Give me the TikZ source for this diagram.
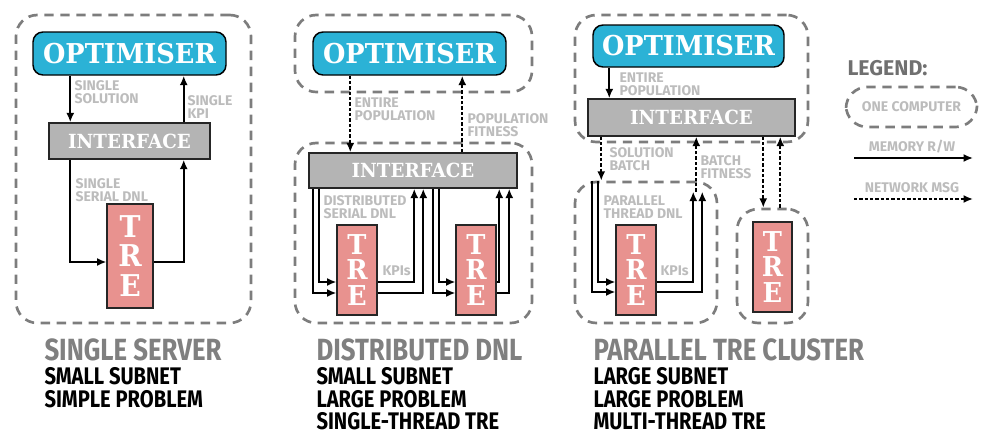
\documentclass[tikz,border=0pt]{standalone}
\usepackage{fontspec}
\usetikzlibrary{arrows.meta,calc,fit}
\newfontfamily\slabfont{DejaVu Serif}[FakeStretch=0.94]
\newfontfamily\labfont{Fira Sans}
\newfontfamily\headfont{Fira Sans}[FakeStretch=0.84]
\definecolor{optcyan}{RGB}{43,178,214}
\definecolor{intgrey}{RGB}{180,180,180}
\definecolor{trepink}{RGB}{232,146,143}
\definecolor{labgrey}{RGB}{188,188,188}
\definecolor{compgrey}{RGB}{125,125,125}
\definecolor{headgrey}{RGB}{128,128,128}
\definecolor{leggrey}{RGB}{112,112,112}
\tikzset{every picture/.style={line width=0.75pt}}
\tikzset{
  optbox/.style={draw=black, fill=optcyan, rounded corners=7.5pt, line width=1.1pt, minimum width=144.75pt, minimum height=32.25pt, inner sep=0pt, text=white, font=\slabfont\bfseries\fontsize{20.5}{20.5}\selectfont},
  intbox/.style={draw=black!85, fill=intgrey, line width=1.1pt, minimum height=27pt, inner sep=0pt, text=white, font=\slabfont\bfseries\fontsize{14.6}{14.6}\selectfont},
  trebox/.style={draw=black!85, fill=trepink, line width=0.8pt, minimum width=30pt, minimum height=67.5pt, inner sep=0pt, text=white, align=center, font=\slabfont\bfseries\fontsize{20.5}{19}\selectfont},
  comp/.style={draw=compgrey, dash pattern=on 7pt off 5pt, line width=2pt, rounded corners=16pt, inner sep=0pt},
  lab/.style={text=labgrey, align=left, anchor=north west, inner sep=0pt, font=\labfont\bfseries\fontsize{10.5}{9.6}\selectfont},
  mem/.style={draw=black, line width=1.5pt, -{Latex[length=7pt,width=6pt]}},
  net/.style={mem, dash pattern=on 2.5pt off 1.5pt},
  headtext/.style={anchor=north west, inner sep=0pt, text=headgrey, font=\headfont\bfseries\fontsize{23}{23}\selectfont},
  subtext/.style={anchor=north west, inner sep=0pt, align=left, font=\headfont\bfseries\fontsize{18}{17}\selectfont},
}

\begin{document}
\begin{tikzpicture}[x=0.75pt,y=0.75pt,yscale=-1,xscale=1]
\useasboundingbox (0,0) rectangle (993,443);

% Single server
\node[comp, fit={(16,15) (251,323)}] (pc1) {};
\node[optbox] (opt1) at (129.5,53.5) {OPTIMISER};
\node[intbox, minimum width=120.75pt] (int1) at (129.5,141) {INTERFACE};
\node[trebox, minimum width=34.5pt, minimum height=78pt, font=\slabfont\bfseries\fontsize{22.5}{22}\selectfont] (tre1) at (130,256) {T\\R\\E};

\coordinate (a1) at ($(int1.north west)+(22,0)$);
\coordinate (b1) at ($(int1.north east)+(-27,0)$);
\draw[mem] (a1 |- opt1.south) -- (a1);
\draw[mem] (b1) -- (b1 |- opt1.south);
\draw[mem] (a1 |- int1.south) |- ($(tre1.west)+(0,6)$);
\draw[mem] ($(tre1.east)+(0,6)$) -| (b1 |- int1.south);

% Text Node
\node[lab] (l1a) at (74,80) {SINGLE\\SOLUTION};
\node[lab] (l1b) at (187,95) {SINGLE\\KPI};
\node[lab] (l1c) at (75,178) {SINGLE\\SERIAL DNL};

% Distributed DNL
\node[comp, fit={(295,15) (532,92)}] (pc2a) {};
\node[comp, fit={(295,143) (532,323)}] (pc2b) {};
\node[optbox] (opt2) at (409.5,53.5) {OPTIMISER};
\node[intbox, minimum width=156pt, minimum height=26.25pt] (int2) at (413,170.5) {INTERFACE};
\node[trebox] (tre2a) at (357,270) {T\\R\\E};
\node[trebox] (tre2b) at (476,270) {T\\R\\E};

\coordinate (a2) at ($(int2.north west)+(42,0)$);
\coordinate (b2) at ($(int2.north west)+(154,0)$);
\draw[net] (a2 |- opt2.south) -- (a2);
\draw[net] (b2) -- (b2 |- opt2.south);
\draw[mem] ($(int2.south west)+(5,0)$) |- ($(tre2a.west)+(0,23)$);
\draw[mem] ($(int2.south west)+(11,0)$) |- ($(tre2a.west)+(0,12)$);
\draw[mem] ($(tre2a.east)+(0,12)$) -| ($(int2.south west)+(106,0)$);
\draw[mem] ($(tre2a.east)+(0,23)$) -| ($(int2.south west)+(115,0)$);
\draw[mem] ($(int2.south west)+(125,0)$) |- ($(tre2b.west)+(0,23)$);
\draw[mem] ($(int2.south west)+(131,0)$) |- ($(tre2b.west)+(0,12)$);
\draw[mem] ($(tre2b.east)+(0,12)$) -| ($(int2.south west)+(191,0)$);
\draw[mem] ($(tre2b.east)+(0,23)$) -| ($(int2.south west)+(201,0)$);

% Text Node
\node[lab] (l2a) at (354,97) {ENTIRE\\POPULATION};
\node[lab] (l2b) at (467,113) {POPULATION\\FITNESS};
\node[lab] (l2c) at (323,195) {DISTRIBUTED\\SERIAL DNL};
\node[lab] (l2d) at (382,265) {KPIs};

% Parallel TRE cluster
\node[comp, fit={(575,15) (808,142)}] (pc3a) {};
\node[comp, fit={(575,182) (717,323)}] (pc3b) {};
\node[comp, fit={(737,209) (808,323)}] (pc3c) {};
\node[optbox, minimum width=143.25pt, minimum height=31.5pt] (opt3) at (688.5,46) {OPTIMISER};
\node[intbox, minimum width=155.25pt, minimum height=27.75pt] (int3) at (691.5,117.5) {INTERFACE};
\node[trebox] (tre3a) at (636,270) {T\\R\\E};
\node[trebox, minimum width=29.25pt] (tre3b) at (772.5,267) {T\\R\\E};

\coordinate (a3) at ($(int3.north west)+(22,0)$);
\coordinate (c3) at ($(int3.south west)+(14,0)$);
\coordinate (d3) at ($(int3.south west)+(109,0)$);
\coordinate (e3) at ($(int3.south west)+(5,0)$);
\coordinate (f3) at ($(int3.south west)+(11,0)$);
\coordinate (g3) at ($(int3.south west)+(106,0)$);
\coordinate (h3) at ($(int3.south west)+(115,0)$);
\coordinate (m3) at ($(int3.south west)+(176,0)$);
\coordinate (n3) at ($(int3.south west)+(193,0)$);
\coordinate (k3) at ($(pc3b.north)+(0,11)$);
\draw[mem] (a3 |- opt3.south) -- (a3);
\draw[net] (c3) -- (c3 |- pc3b.north);
\draw[net] (d3 |- k3) -- (d3);
\draw[mem] (e3 |- pc3b.north) |- ($(tre3a.west)+(0,22)$);
\draw[mem] (f3 |- pc3b.north) |- ($(tre3a.west)+(0,12)$);
\draw[mem] ($(tre3a.east)+(0,12)$) -| (g3 |- k3);
\draw[mem] ($(tre3a.east)+(0,22)$) -| (h3 |- k3);
\draw[net] (m3) -- (m3 |- pc3c.north);
\draw[net] (n3 |- pc3c.north) -- (n3);

% Text Node
\node[lab] (l3a) at (619,72) {ENTIRE\\POPULATION};
\node[lab] (l3b) at (609,147) {SOLUTION\\BATCH};
\node[lab] (l3c) at (700,155) {BATCH\\FITNESS};
\node[lab] (l3d) at (603,195) {PARALLEL\\THREAD DNL};
\node[lab] (l3e) at (660,265) {KPIs};

% Legend
\node[headtext, text=leggrey, font=\labfont\bfseries\fontsize{16}{16}\selectfont] (legtitle) at (847,60) {LEGEND:};
\node[comp, fit={(846,87) (977,127)}] (legcomp) {};
\node[lab, anchor=center] (legpc) at (911.5,107) {ONE COMPUTER};
\node[lab, anchor=north] (legmem) at (912,140) {MEMORY R/W};
\node[lab, anchor=north] (legnet) at (912,182) {NETWORK MSG};
\coordinate (mem0) at (854,158);
\coordinate (mem1) at (973,158);
\coordinate (net0) at (854,199);
\coordinate (net1) at (973,199);
\draw[mem] (mem0) -- (mem1);
\draw[net] (net0) -- (net1);

% Captions
\node[headtext] (cap1) at (44,338) {SINGLE SERVER};
\node[subtext] (sub1) at (44,367) {SMALL SUBNET\\SIMPLE PROBLEM};
\node[headtext] (cap2) at (316,338) {DISTRIBUTED DNL};
\node[subtext] (sub2) at (316,367) {SMALL SUBNET\\LARGE PROBLEM\\SINGLE-THREAD TRE};
\node[headtext] (cap3) at (593,338) {PARALLEL TRE CLUSTER};
\node[subtext] (sub3) at (593,367) {LARGE SUBNET\\LARGE PROBLEM\\MULTI-THREAD TRE};

\end{tikzpicture}
\end{document}
